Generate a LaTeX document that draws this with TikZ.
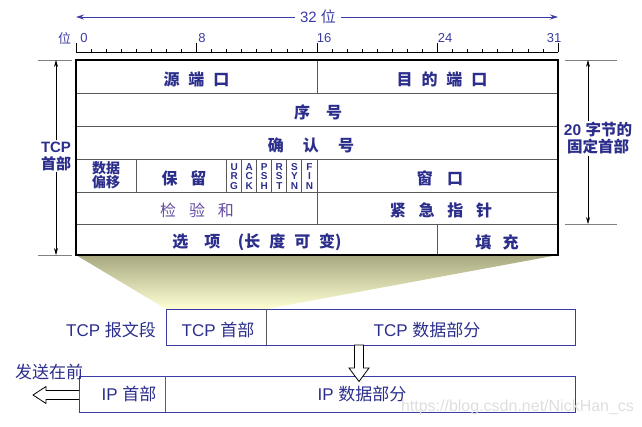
\documentclass[tikz,border=0pt]{standalone}
\usepackage{fontspec}
\setmainfont{Liberation Sans}
\newfontfamily\cjk{Noto Sans CJK SC}
\usetikzlibrary{arrows.meta}

\definecolor{hdblue}{RGB}{44,46,140}
\definecolor{rulblue}{RGB}{58,60,165}
\definecolor{sumpurple}{RGB}{100,76,160}
\definecolor{funtop}{RGB}{168,168,128}
\definecolor{funbot}{RGB}{255,255,212}
\definecolor{wmgray}{RGB}{222,222,222}

\newcommand\bitx[1]{76+15.06*(#1)}
\newcommand\fgap[1][0.56em]{\hspace{#1}}

\tikzset{
  field/.style={font=\cjk\bfseries\fontsize{16}{18}\selectfont, text=hdblue, inner sep=0pt},
  flagtxt/.style={font=\bfseries\fontsize{10}{9.3}\selectfont, text=hdblue, align=center, inner sep=0pt},
  seglbl/.style={font=\fontsize{17}{19}\selectfont, text=hdblue, inner sep=0pt},
  dimlbl/.style={font=\bfseries\fontsize{15}{17}\selectfont, text=hdblue, align=center, inner sep=1pt},
  dimarr/.style={-{Stealth[length=7pt,width=4pt]}, line width=0.6pt},
  extline/.style={gray, line width=0.8pt},
  celline/.style={gray!70!black, line width=0.9pt},
  hollow/.style={draw=black, fill=white, line width=0.8pt},
}

\begin{document}
\begin{tikzpicture}[x=1pt,y=-1pt]
    \useasboundingbox (0,0) rectangle (642,426);

    % 32 位
    \node[font=\fontsize{15}{17}\selectfont, text=rulblue, inner sep=5pt] (width) at (318,17) {32 {\cjk 位}};
    \coordinate (wl) at (76,17);
    \coordinate (wr) at (558,17);
    \draw[rulblue, line width=0.8pt, -{Stealth[length=8pt,width=5pt]}] (width.west) -- (wl);
    \draw[rulblue, line width=0.8pt, -{Stealth[length=8pt,width=5pt]}] (width.east) -- (wr);

    % 刻度尺
    \draw[line width=0.8pt] (76,52) -- (558,52);
    \foreach \k in {0,...,32}
        \draw[line width=0.6pt] ({\bitx{\k}},52) -- ({\bitx{\k}},48.5);
    \foreach \k in {0,8,16,24,32}
        \draw[line width=0.8pt] ({\bitx{\k}},52) -- ({\bitx{\k}},43);
    \node[font=\cjk\fontsize{13}{15}\selectfont, text=rulblue, inner sep=0pt] (bitlbl) at (64.5,38) {位};
    \foreach \x/\t in {84/0,202/8,324/16,445/24,554/31}
        \node[font=\fontsize{13}{15}\selectfont, text=rulblue, inner sep=0pt] (b\t) at (\x,38) {\t};

    % 漏斗
    \shade[top color=funtop, bottom color=funbot]
        (76,255) -- (558,255) -- (266,309) -- (166,309) -- cycle;

    % 首部表格
    \foreach \y in {93,126,159,192,224}
        \draw[celline] (76,\y) -- (558,\y);
    \draw[celline] ({\bitx{16}},60) -- ({\bitx{16}},93);
    \draw[celline] ({\bitx{16}},192) -- ({\bitx{16}},224);
    \foreach \k in {4,10,11,...,16}
        \draw[celline] ({\bitx{\k}},159) -- ({\bitx{\k}},192);
    \draw[celline] ({\bitx{24}},224) -- ({\bitx{24}},255);
    \draw[line width=1.3pt] (76,60) rectangle (558,255);

    % 各字段
    \node[field] (srcport) at ({\bitx{8}},79.5) {源\fgap 端\fgap 口};
    \node[field] (dstport) at (442,79.5) {目\fgap 的\fgap 端\fgap 口};
    \node[field] (seqno) at (318,112.5) {序\fgap[1em]号};
    \node[field] (ackno) at (311,145.5) {确\fgap[1.2em]认\fgap[1.2em]号};
    \node[field, font=\cjk\bfseries\fontsize{14}{14}\selectfont, align=center] (offset) at ({\bitx{2}},175.5) {数据\\偏移};
    \node[field] (resv) at (184,178.5) {保\fgap[0.8em]留};
    \foreach \f [count=\i from 10] in {U\\R\\G,A\\C\\K,P\\S\\H,R\\S\\T,S\\Y\\N,F\\I\\N}
        \node[flagtxt] (flag\i) at ({\bitx{\i+0.5}},176.5) {\f};
    \node[field] (window) at (440,178.5) {窗\fgap[0.9em]口};
    \node[field, font=\cjk\fontsize{16}{18}\selectfont, text=sumpurple] (checksum) at (197,210.5) {检\fgap[0.8em]验\fgap[0.8em]和};
    \node[field] (urgptr) at (441,210.5) {紧\fgap[0.8em]急\fgap[0.8em]指\fgap[0.8em]针};
    \node[field] (options) at (257,242.5) {选\fgap[1em]项\fgap[1.1em](长\fgap 度\fgap 可\fgap 变)};
    \node[field] (padding) at (497,242.5) {填\fgap[0.7em]充};

    % TCP 首部（左侧尺寸）
    \coordinate (ltop) at (56,60);
    \coordinate (lbot) at (56,255);
    \draw[extline] (38,60) -- (72,60);
    \draw[extline] (38,255) -- (72,255);
    \node[dimlbl] (tcplen) at (56,156) {TCP\\{\cjk 首部}};
    \draw[dimarr] (tcplen.north) -- (ltop);
    \draw[dimarr] (tcplen.south) -- (lbot);

    % 20 字节的固定首部（右侧尺寸）
    \coordinate (rtop) at (588,60);
    \coordinate (rbot) at (588,224);
    \draw[extline] (565,60) -- (617,60);
    \draw[extline] (565,224) -- (617,224);
    \node[dimlbl, font=\bfseries\fontsize{15.5}{17}\selectfont] (fixlen) at (598,138.5) {20 {\cjk 字节的}\\{\cjk 固定首部}};
    \draw[dimarr] (fixlen.north -| rtop) -- (rtop);
    \draw[dimarr] (fixlen.south -| rbot) -- (rbot);

    % TCP 报文段
    \draw[rulblue, line width=0.9pt] (166,309) rectangle (575,345);
    \draw[celline] (266,309) -- (266,345);
    \node[seglbl] (segment) at (111,330) {TCP {\cjk 报文段}};
    \node[seglbl] (tcphdr) at (218,330) {TCP {\cjk 首部}};
    \node[seglbl] (tcpdata) at (427,330) {TCP {\cjk 数据部分}};

    % IP 数据报
    \draw[rulblue, line width=0.9pt] (79,376) rectangle (575,412);
    \draw[rulblue!60!gray, line width=0.9pt] (165,376) -- (165,412);
    \node[seglbl] (iphdr) at (129,394) {IP {\cjk 首部}};
    \node[seglbl] (ipdata) at (362,394) {IP {\cjk 数据部分}};

    % 空心箭头
    \draw[hollow] (354.5,345) -- (363.5,345) -- (363.5,368) -- (369,368) -- (359,381.5)
        -- (349,368) -- (354.5,368) -- cycle;
    \draw[hollow] (79,390.5) -- (46,390.5) -- (46,386.5) -- (33,395) -- (46,403.5)
        -- (46,399.5) -- (79,399.5);
    \node[seglbl, font=\cjk\fontsize{17}{19}\selectfont] (sendfirst) at (49,372) {发送在前};

    % 水印
    \node[font=\fontsize{16}{18}\selectfont, text=wmgray, inner sep=0pt] (wmark) at (517.5,407) {https://blog.csdn.net/NickHan\_cs};
\end{tikzpicture}
\end{document}
